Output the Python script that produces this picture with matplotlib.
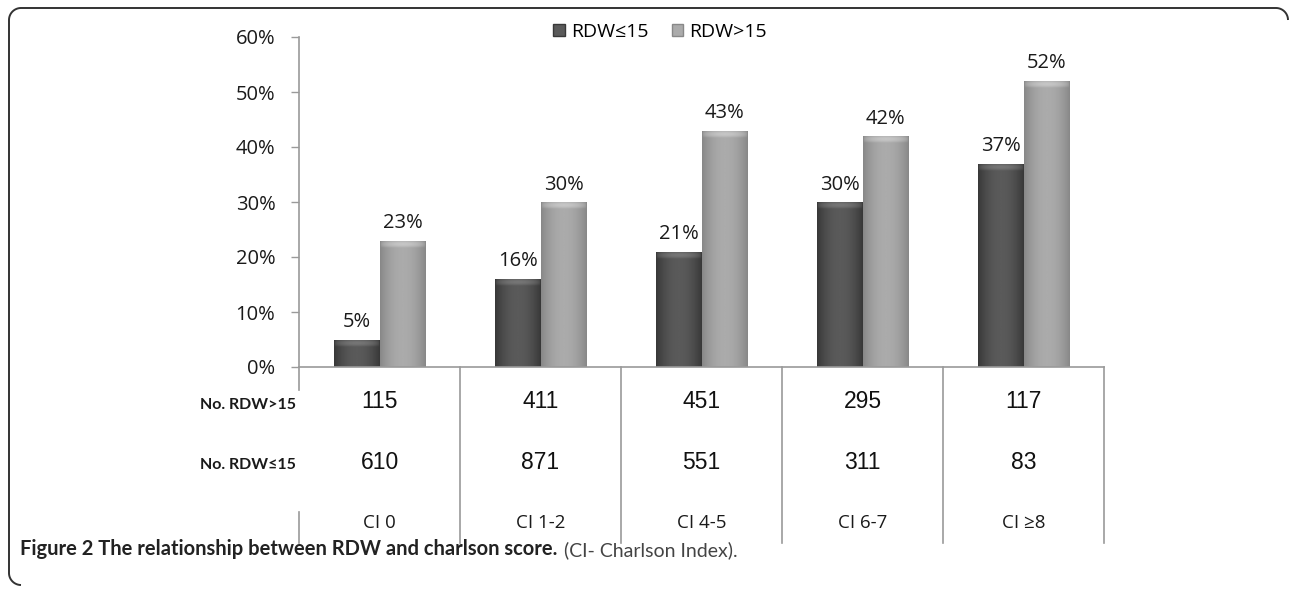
import numpy as np
import matplotlib.pyplot as plt
from matplotlib.colors import LinearSegmentedColormap
from matplotlib.patches import Patch, PathPatch
from matplotlib.path import Path

# share of patients per Charlson index group, by RDW level
categories = ["CI 0", "CI 1-2", "CI 4-5", "CI 6-7", "CI \u22658"]
series_names = ["RDW\u226415", "RDW>15"]
pct_low = [5, 16, 21, 30, 37]
pct_high = [23, 30, 43, 42, 52]

# patient counts shown in the table under the bars
row_names = ["No. RDW>15", "No. RDW\u226415"]
n_high = [115, 411, 451, 295, 117]
n_low = [610, 871, 551, 311, 83]

W, H = 1292, 589
SANS = ["Open Sans", "DejaVu Sans"]
CAPTION = ["Lato", "DejaVu Sans"]
NARROW = ["Liberation Sans Narrow", "Liberation Sans", "DejaVu Sans"]
GRID = "#9a9a9a"
INK = "#1a1a1a"

fig = plt.figure(figsize=(W / 100, H / 100), dpi=100)
ax = fig.add_axes([299 / W, 1 - 367 / H, (1104 - 299) / W, 330 / H])

x = np.arange(len(categories))
bw = 0.285
palettes = [("#383838", "#5a5a5a", "#767676"), ("#888888", "#ababab", "#c6c6c6")]


def shade(bar, edge, mid, cap):
    # horizontal gradient body plus a soft bevel at the top
    x0, y0 = bar.get_x(), bar.get_y()
    w, h = bar.get_width(), bar.get_height()
    prof = 1 - np.abs(np.linspace(-1, 1, 64)) ** 2
    body = LinearSegmentedColormap.from_list("body", [edge, mid])
    im = ax.imshow(prof[None, :], cmap=body, vmin=0, vmax=1, aspect="auto",
                   extent=(x0, x0 + w, y0, y0 + h), zorder=2, interpolation="bilinear")
    im.set_clip_path(bar)
    capc = LinearSegmentedColormap.from_list("cap", [edge, mid, cap])
    ch = min(1.3, h)
    yy = np.linspace(0, 1, 16)[:, None]
    arr = 0.5 * prof[None, :] + 0.5 * np.sin(np.pi * yy) * prof[None, :] ** 0.3
    im2 = ax.imshow(arr, cmap=capc, vmin=0, vmax=1, aspect="auto",
                    extent=(x0, x0 + w, y0 + h - ch, y0 + h), zorder=3, interpolation="bilinear")
    im2.set_clip_path(bar)


for vals, off, pal in [(pct_low, -bw / 2, palettes[0]), (pct_high, bw / 2, palettes[1])]:
    bars = ax.bar(x + off, vals, bw, color=pal[1], edgecolor="none", zorder=1)
    for b, v in zip(bars, vals):
        shade(b, *pal)
        ax.annotate(f"{v}%", (b.get_x() + bw / 2, v), xytext=(0, 9),
                    textcoords="offset points", ha="center", va="baseline",
                    fontsize=14.5, family=SANS, color=INK)

ax.set_xlim(-0.5, len(categories) - 0.5)
ax.set_ylim(0, 60)
ax.set_yticks(range(0, 61, 10))
ax.set_yticklabels([f"{v}%" for v in range(0, 61, 10)], fontsize=14.5, family=SANS, color=INK)
ax.set_xticks([])
ax.tick_params(axis="y", length=6, width=1, color=GRID, pad=11)
for s in ["top", "right"]:
    ax.spines[s].set_visible(False)
for s in ["left", "bottom"]:
    ax.spines[s].set_color(GRID)
    ax.spines[s].set_linewidth(1.2)

# data table under the plot
tx = ax.get_xaxis_transform()
for i in range(len(categories)):
    ax.text(i, -0.106, str(n_high[i]), transform=tx, ha="center", va="center",
            fontsize=16.5, family=NARROW, color="#111111")
    ax.text(i, -0.288, str(n_low[i]), transform=tx, ha="center", va="center",
            fontsize=16.5, family=NARROW, color="#111111")
    ax.text(i, -0.473, categories[i], transform=tx, ha="center", va="center",
            fontsize=13.5, family=SANS, color=INK)
for name, yy in zip(row_names, [-0.114, -0.296]):
    ax.text(-0.004, yy, name, transform=ax.transAxes, ha="right", va="center",
            fontsize=11.5, fontweight="bold", family=CAPTION, color=INK)

bottom = -0.533
for b in np.arange(0.5, len(categories)):
    ax.plot([b, b], [0, bottom], transform=tx, color=GRID, lw=1.2, clip_on=False)
ax.plot([-0.5, -0.5], [0, -0.07], transform=tx, color=GRID, lw=1.2, clip_on=False)
ax.plot([-0.5, -0.5], [-0.44, bottom], transform=tx, color=GRID, lw=1.2, clip_on=False)

handles = [Patch(facecolor=palettes[0][1], edgecolor=palettes[0][0]),
           Patch(facecolor=palettes[1][1], edgecolor=palettes[1][0])]
fig.legend(handles, series_names, loc="center", bbox_to_anchor=(660 / W, 1 - 32 / H),
           ncol=2, frameon=False, prop={"family": SANS, "size": 14},
           handlelength=0.6, handleheight=0.6, handletextpad=0.3, columnspacing=1.2)

# caption
cap = fig.text(20 / W, 1 - 555 / H, "Figure 2 The relationship between RDW and charlson score.",
               fontsize=14.5, fontweight="bold", family=CAPTION, color="#222222", va="baseline")
ax.annotate(" (CI- Charlson Index).", xy=(1, 0), xycoords=cap, xytext=(1, 0),
            textcoords="offset points", ha="left", va="bottom",
            fontsize=14, family=CAPTION, color="#444444", annotation_clip=False)

# rounded frame: top edge, left edge and the corners
r = 12
def arc(cx, cy, a0, a1):
    t = np.radians(np.linspace(a0, a1, 20))
    return np.c_[cx + r * np.cos(t), cy - r * np.sin(t)]
pts = np.vstack([arc(1276, 20, 0, 90), arc(21, 20, 90, 180), arc(21, 573, 180, 270)])
pts = np.c_[pts[:, 0] / W, 1 - pts[:, 1] / H]
fig.add_artist(PathPatch(Path(pts), transform=fig.transFigure, fill=False,
                         edgecolor="#333333", lw=1.4))

fig.savefig("out.png", dpi=100, facecolor="white")
